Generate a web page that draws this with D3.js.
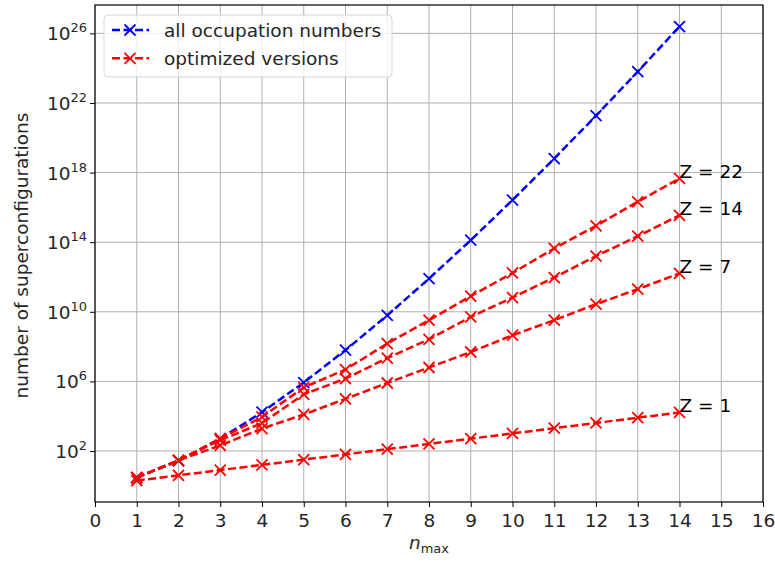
<!DOCTYPE html>
<html>
<head>
<meta charset="utf-8">
<script src="https://cdn.jsdelivr.net/npm/d3@7"></script>
<style>
  html, body { margin: 0; padding: 0; background: #fff; }
  svg { display: block; font-family: "DejaVu Sans", sans-serif; }
</style>
</head>
<body>
<svg id="chart" width="775" height="562"></svg>
<script>
// Maximum principal quantum number included
const nmax = [1, 2, 3, 4, 5, 6, 7, 8, 9, 10, 11, 12, 13, 14];

// Number of superconfigurations with every occupation number allowed
const allOccupations = [3, 27, 513, 16929, 863379, 6.30e7, 6.24e9, 8.05e11, 1.31e14, 2.64e16, 6.41e18, 1.85e21, 6.28e23, 2.47e26];

// Optimized counts for a few nuclear charges
const optZ22 = [3, 29, 5.1e2, 9.1e3, 4.5e5, 4.8e6, 1.5e8, 3.3e9, 7.9e10, 1.7e12, 4.4e13, 8.7e14, 2.1e16, 4.6e17];
const optZ14 = [3, 29, 4.2e2, 4.0e3, 1.8e5, 1.45e6, 2.2e7, 2.6e8, 5.1e9, 6.6e10, 9.3e11, 1.6e13, 2.2e14, 3.5e15];
const optZ7  = [3, 29, 2.1e2, 1.95e3, 1.26e4, 1.0e5, 8.1e5, 6.3e6, 4.9e7, 4.5e8, 3.3e9, 2.75e10, 2.0e11, 1.6e12];
const optZ1  = [2, 4, 8, 16, 32, 64, 128, 256, 512, 1024, 2048, 4096, 8192, 16384];

const optSeries = [
  { label: "Z = 22", values: optZ22 },
  { label: "Z = 14", values: optZ14 },
  { label: "Z = 7",  values: optZ7 },
  { label: "Z = 1",  values: optZ1 }
];

const xTicks = d3.range(0, 17);
const yTickExponents = [2, 6, 10, 14, 18, 22, 26];

const legendLabels = ["all occupation numbers", "optimized versions"];
const blue = "#0000ff", red = "#ff0000";

const svg = d3.select("#chart");
const plot = { left: 95, right: 763, top: 5, bottom: 502 };
const fontSize = 18.5;
const lineWidth = 2.5, dash = "8,3.5", markerHalf = 5.5, markerWidth = 1.8;

const x = d3.scaleLinear().domain([0, 16]).range([plot.left, plot.right]);
const y = d3.scaleLog().domain([Math.pow(10, -0.93), Math.pow(10, 27.63)]).range([plot.bottom, plot.top]);

// grid
const grid = svg.append("g").attr("stroke", "#b0b0b0").attr("stroke-width", 1);
xTicks.forEach(t => {
  grid.append("line").attr("x1", x(t)).attr("x2", x(t)).attr("y1", plot.top).attr("y2", plot.bottom);
});
yTickExponents.forEach(e => {
  grid.append("line").attr("x1", plot.left).attr("x2", plot.right).attr("y1", y(Math.pow(10, e))).attr("y2", y(Math.pow(10, e)));
});

// x axis
const xAxis = d3.axisBottom(x).tickValues(xTicks).tickSize(5).tickPadding(7).tickFormat(d3.format("d"));
const gx = svg.append("g").attr("transform", `translate(0,${plot.bottom})`).call(xAxis);
gx.select(".domain").remove();
gx.selectAll("line").attr("stroke", "#000").attr("stroke-width", 1);
gx.selectAll("text").attr("font-size", fontSize).attr("font-family", "DejaVu Sans").attr("fill", "#262626");

// y axis with power-of-ten labels
const yAxis = d3.axisLeft(y).tickValues(yTickExponents.map(e => Math.pow(10, e))).tickSize(5).tickFormat("");
const gy = svg.append("g").attr("transform", `translate(${plot.left},0)`).call(yAxis);
gy.select(".domain").remove();
gy.selectAll("line").attr("stroke", "#000").attr("stroke-width", 1);
yTickExponents.forEach(e => {
  const t = svg.append("text")
    .attr("x", plot.left - 8)
    .attr("y", y(Math.pow(10, e)) + 7)
    .attr("text-anchor", "end")
    .attr("font-size", fontSize)
    .attr("fill", "#262626");
  t.append("tspan").text("10");
  t.append("tspan").attr("font-size", fontSize * 0.7).attr("dy", -8).text(e);
});

// frame
svg.append("rect")
  .attr("x", plot.left).attr("y", plot.top)
  .attr("width", plot.right - plot.left).attr("height", plot.bottom - plot.top)
  .attr("fill", "none").attr("stroke", "#000").attr("stroke-width", 1.2);

// series
const line = d3.line().x((d, i) => x(nmax[i])).y(d => y(d));

function drawSeries(values, color) {
  const g = svg.append("g");
  g.append("path").datum(values)
    .attr("d", line)
    .attr("fill", "none")
    .attr("stroke", color)
    .attr("stroke-width", lineWidth)
    .attr("stroke-dasharray", dash);
  const m = markerHalf;
  g.selectAll("path.mk").data(values).join("path")
    .attr("class", "mk")
    .attr("d", (d, i) => {
      const cx = x(nmax[i]), cy = y(d);
      return `M${cx - m},${cy - m}L${cx + m},${cy + m}M${cx - m},${cy + m}L${cx + m},${cy - m}`;
    })
    .attr("stroke", color)
    .attr("stroke-width", markerWidth)
    .attr("fill", "none");
}

drawSeries(allOccupations, blue);
optSeries.forEach(s => drawSeries(s.values, red));

// series labels at the last point
optSeries.forEach(s => {
  const last = s.values[s.values.length - 1];
  svg.append("text")
    .attr("x", x(nmax[nmax.length - 1]))
    .attr("y", y(last))
    .attr("font-size", fontSize)
    .attr("fill", "#000")
    .text(s.label);
});

// legend
const lg = svg.append("g");
lg.append("rect")
  .attr("x", 104).attr("y", 15).attr("width", 288).attr("height", 62)
  .attr("rx", 4).attr("fill", "#fff").attr("fill-opacity", 0.8)
  .attr("stroke", "#d6d6d6").attr("stroke-width", 1);
[blue, red].forEach((c, i) => {
  const cy = 30 + i * 28.3;
  lg.append("line").attr("x1", 112).attr("x2", 149).attr("y1", cy).attr("y2", cy)
    .attr("stroke", c).attr("stroke-width", lineWidth).attr("stroke-dasharray", dash);
  const cx = 130, m = markerHalf;
  lg.append("path")
    .attr("d", `M${cx - m},${cy - m}L${cx + m},${cy + m}M${cx - m},${cy + m}L${cx + m},${cy - m}`)
    .attr("stroke", c).attr("stroke-width", markerWidth);
  lg.append("text").attr("x", 164).attr("y", cy + 6.5)
    .attr("font-size", fontSize).attr("fill", "#262626").text(legendLabels[i]);
});

// axis titles
const xl = svg.append("text")
  .attr("x", (plot.left + plot.right) / 2).attr("y", 549)
  .attr("text-anchor", "middle").attr("font-size", fontSize).attr("fill", "#262626");
xl.append("tspan").attr("font-style", "italic").text("n");
xl.append("tspan").attr("font-size", fontSize * 0.7).attr("dy", 4).text("max");

svg.append("text")
  .attr("transform", `translate(28,${(plot.top + plot.bottom) / 2 + 2}) rotate(-90)`)
  .attr("text-anchor", "middle").attr("font-size", fontSize).attr("fill", "#262626")
  .text("number of superconfigurations");
</script>
</body>
</html>
